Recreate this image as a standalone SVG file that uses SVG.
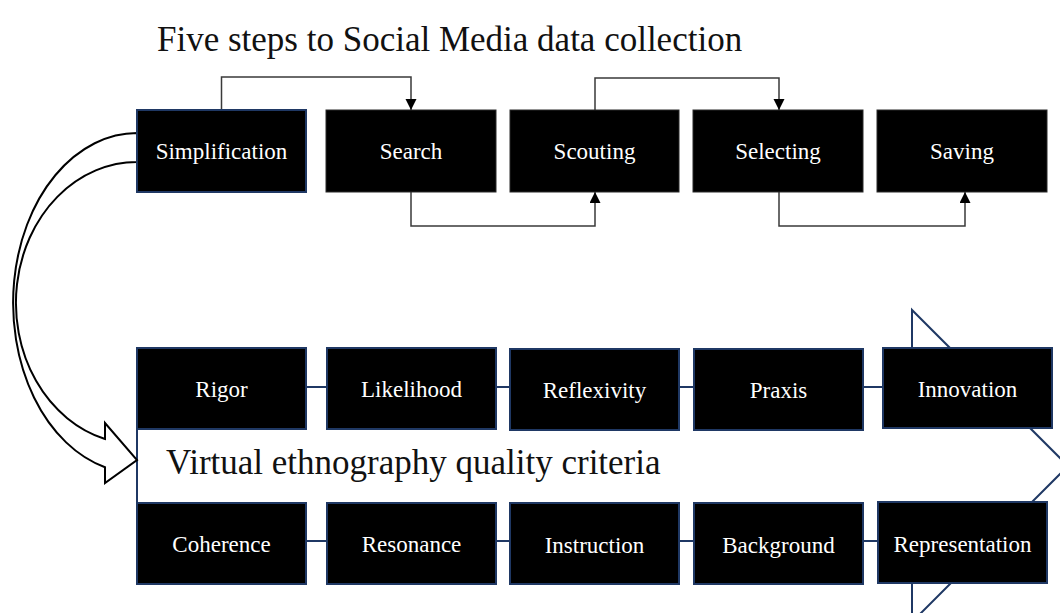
<svg xmlns="http://www.w3.org/2000/svg" width="1060" height="613" viewBox="0 0 1060 613">
  <defs>
    <marker id="ah" markerUnits="userSpaceOnUse" markerWidth="12" markerHeight="12" refX="11" refY="5.5" orient="auto">
      <path d="M0,0 L11,5.5 L0,11 Z" fill="#000"/>
    </marker>
    <style>
      .title { font-family: "Liberation Serif", "Times New Roman", serif; font-size: 35px; fill: #111; }
      .lbl { font-family: "Liberation Serif", "Times New Roman", serif; font-size: 23px; fill: #fff; text-anchor: middle; }
      .topbox { fill: #000; stroke: #2a2a2a; stroke-width: 1; }
      .navybox { fill: #000; stroke: #1f3864; stroke-width: 2; }
      .conn { fill: none; stroke: #3a3a3a; stroke-width: 1.5; marker-end: url(#ah); }
      .bigarrow { fill: #fff; stroke: #1f3864; stroke-width: 2; }
      .curved { fill: #fff; stroke: #000; stroke-width: 2; stroke-linejoin: miter; }
    </style>
  </defs>
  <rect x="0" y="0" width="1060" height="613" fill="#fff"/>

  <text class="title" x="157" y="51">Five steps to Social Media data collection</text>

  <g id="quality-arrow">
    <path class="bigarrow" d="M137,387 H912 V310 L1068,466 L912,622 V541 H137 Z"/>
    <text class="title" x="166" y="474">Virtual ethnography quality criteria</text>
  </g>

  <g id="curved-arrow">
    <path class="curved" d="M137,133 A124,170 0 0 0 105,467.2 L105,483 L137,460 L105,423 L105,439 A121,141 0 0 1 137,162 Z"/>
  </g>

  <g id="connectors">
    <path class="conn" d="M221.5,110 V77 H411 V110"/>
    <path class="conn" d="M411,192 V226 H595 V192"/>
    <path class="conn" d="M595,110 V78 H779 V110"/>
    <path class="conn" d="M779,192 V226 H965 V192"/>
  </g>

  <g id="simplification">
    <rect class="navybox" x="137" y="110" width="169" height="82"/>
    <text class="lbl" x="221.5" y="159">Simplification</text>
  </g>
  <g id="search">
    <rect class="topbox" x="326" y="110" width="170" height="82"/>
    <text class="lbl" x="411" y="159">Search</text>
  </g>
  <g id="scouting">
    <rect class="topbox" x="510" y="110" width="169" height="82"/>
    <text class="lbl" x="594.5" y="159">Scouting</text>
  </g>
  <g id="selecting">
    <rect class="topbox" x="693" y="110" width="170" height="82"/>
    <text class="lbl" x="778" y="159">Selecting</text>
  </g>
  <g id="saving">
    <rect class="topbox" x="877" y="110" width="170" height="82"/>
    <text class="lbl" x="962" y="159">Saving</text>
  </g>

  <g id="rigor">
    <rect class="navybox" x="137" y="348" width="169" height="81"/>
    <text class="lbl" x="221.5" y="397">Rigor</text>
  </g>
  <g id="likelihood">
    <rect class="navybox" x="327" y="348" width="169" height="81"/>
    <text class="lbl" x="411.5" y="397">Likelihood</text>
  </g>
  <g id="reflexivity">
    <rect class="navybox" x="510" y="349" width="169" height="81"/>
    <text class="lbl" x="594.5" y="398">Reflexivity</text>
  </g>
  <g id="praxis">
    <rect class="navybox" x="694" y="349" width="169" height="81"/>
    <text class="lbl" x="778.5" y="398">Praxis</text>
  </g>
  <g id="innovation">
    <rect class="navybox" x="883" y="348" width="169" height="80"/>
    <text class="lbl" x="967.5" y="397">Innovation</text>
  </g>

  <g id="coherence">
    <rect class="navybox" x="137" y="503" width="169" height="81"/>
    <text class="lbl" x="221.5" y="552">Coherence</text>
  </g>
  <g id="resonance">
    <rect class="navybox" x="327" y="503" width="169" height="81"/>
    <text class="lbl" x="411.5" y="552">Resonance</text>
  </g>
  <g id="instruction">
    <rect class="navybox" x="510" y="503" width="169" height="81"/>
    <text class="lbl" x="594.5" y="553">Instruction</text>
  </g>
  <g id="background">
    <rect class="navybox" x="694" y="503" width="169" height="81"/>
    <text class="lbl" x="778.5" y="553">Background</text>
  </g>
  <g id="representation">
    <rect class="navybox" x="878" y="502" width="169" height="81"/>
    <text class="lbl" x="962.5" y="552">Representation</text>
  </g>
</svg>
